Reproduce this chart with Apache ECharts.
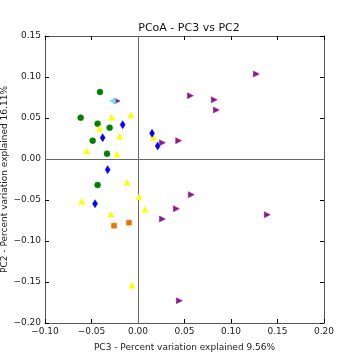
<!DOCTYPE html>
<html><head><meta charset="utf-8">
<script src="https://cdn.jsdelivr.net/npm/echarts@6/dist/echarts.min.js"></script>
<style>html,body{margin:0;padding:0;background:#fff}#c{width:360px;height:360px}</style>
</head><body><div id="c"></div>
<script>
const xTicks = [-0.10, -0.05, 0.00, 0.05, 0.10, 0.15, 0.20];
const yTicks = [-0.20, -0.15, -0.10, -0.05, 0.00, 0.05, 0.10, 0.15];
const green = [[-0.0409,0.0817],[-0.0616,0.0504],[-0.0434,0.0431],[-0.0305,0.0382],[-0.0487,0.0224],[-0.0333,0.0065],[-0.0434,-0.0317]];
const yellow = [[-0.0283,0.0508],[-0.0075,0.0537],[-0.0412,0.0374],[-0.0197,0.0277],[-0.0552,0.0098],[-0.0226,0.0057],[0.0169,0.0265],[-0.0118,-0.0284],[0.0011,-0.0463],[0.0075,-0.0614],[-0.0605,-0.0516],[-0.0294,-0.0671],[-0.0065,-0.154]];
const blue = [[-0.0165,0.0419],[-0.038,0.026],[0.0151,0.0313],[0.0212,0.0159],[-0.0326,-0.013],[-0.0462,-0.0545]];
const purple = [[-0.0224,0.0707],[0.1272,0.1037],[0.0563,0.0772],[0.082,0.0723],[0.0842,0.0598],[0.0262,0.0199],[0.0437,0.0224],[0.0573,-0.0435],[0.0412,-0.0606],[0.0262,-0.0732],[0.139,-0.0679],[0.0444,-0.1728]];
const orange = [[-0.0258,-0.0813],[-0.0097,-0.0776]];
const cyan = [[-0.0272,0.0707]];

const fmt = v => v.toFixed(2).replace('-', '\u2212');
const font = 'DejaVu Sans';
const axCol = '#555';
function xAx(pos, show) {
  return {type:'value', position:pos, min:xTicks[0], max:xTicks[xTicks.length-1], interval:0.05,
    axisLine:{show:true, onZero:false, lineStyle:{color:axCol, width:1}},
    axisTick:{show:true, inside:true, length:4, lineStyle:{color:'#000'}},
    axisLabel:{show:show, formatter:fmt, fontFamily:font, fontSize:9, color:'#222', margin:4},
    splitLine:{show:false},
    name: show ? 'PC3 - Percent variation explained 9.56%' : '', nameLocation:'middle', nameGap:20, nameMoveOverlap:false,
    nameTextStyle:{fontFamily:font, fontSize:9, color:'#222'}};
}
function yAx(pos, show) {
  return {type:'value', position:pos, min:yTicks[0], max:yTicks[yTicks.length-1], interval:0.05,
    axisLine:{show:true, onZero:false, lineStyle:{color:axCol, width:1}},
    axisTick:{show:true, inside:true, length:4, lineStyle:{color:'#000'}},
    axisLabel:{show:show, formatter:fmt, fontFamily:font, fontSize:9, color:'#222', margin:4},
    splitLine:{show:false},
    name: show ? 'PC2 - Percent variation explained 16.11%' : '', nameLocation:'middle', nameGap:36, nameRotate:90, nameMoveOverlap:false,
    nameTextStyle:{fontFamily:font, fontSize:9, color:'#222'}};
}
function sc(data, symbol, size, color, rot) {
  return {type:'scatter', data:data, symbol:symbol, symbolSize:size, symbolRotate:rot||0,
    itemStyle:{color:color, opacity:1, borderColor:color, borderWidth:0.5}, xAxisIndex:0, yAxisIndex:0, z:5};
}
const chart = echarts.init(document.getElementById('c'), null, {renderer:'canvas'});
chart.setOption({
  animation:false,
  title:{text:'PCoA - PC3 vs PC2', left:184, top:18, textAlign:'center',
    textStyle:{fontFamily:font, fontSize:11, fontWeight:'normal', color:'#111'}},
  grid:{left:45, right:36, top:36, bottom:37, containLabel:false, outerBoundsMode:'none'},
  xAxis:[xAx('bottom', true), xAx('top', false)],
  yAxis:[yAx('left', true), yAx('right', false)],
  series:[
    {type:'line', data:[], xAxisIndex:0, yAxisIndex:0, z:1,
      markLine:{silent:true, symbol:'none', label:{show:false},
        lineStyle:{color:'#666', width:1, type:'solid'},
        data:[{xAxis:0},{yAxis:0}]}},
    sc(green, 'circle', 6, '#008000'),
    sc(yellow, 'triangle', 6, '#ffff00'),
    sc(blue, 'diamond', [5,8], '#0000ff'),
    sc(purple, 'triangle', 6, '#8b1a8b', -90),
    sc(orange, 'rect', 5, '#f07000'),
    sc(cyan, 'triangle', 6, '#66e0ee', 90)
  ]
});
</script></body></html>
